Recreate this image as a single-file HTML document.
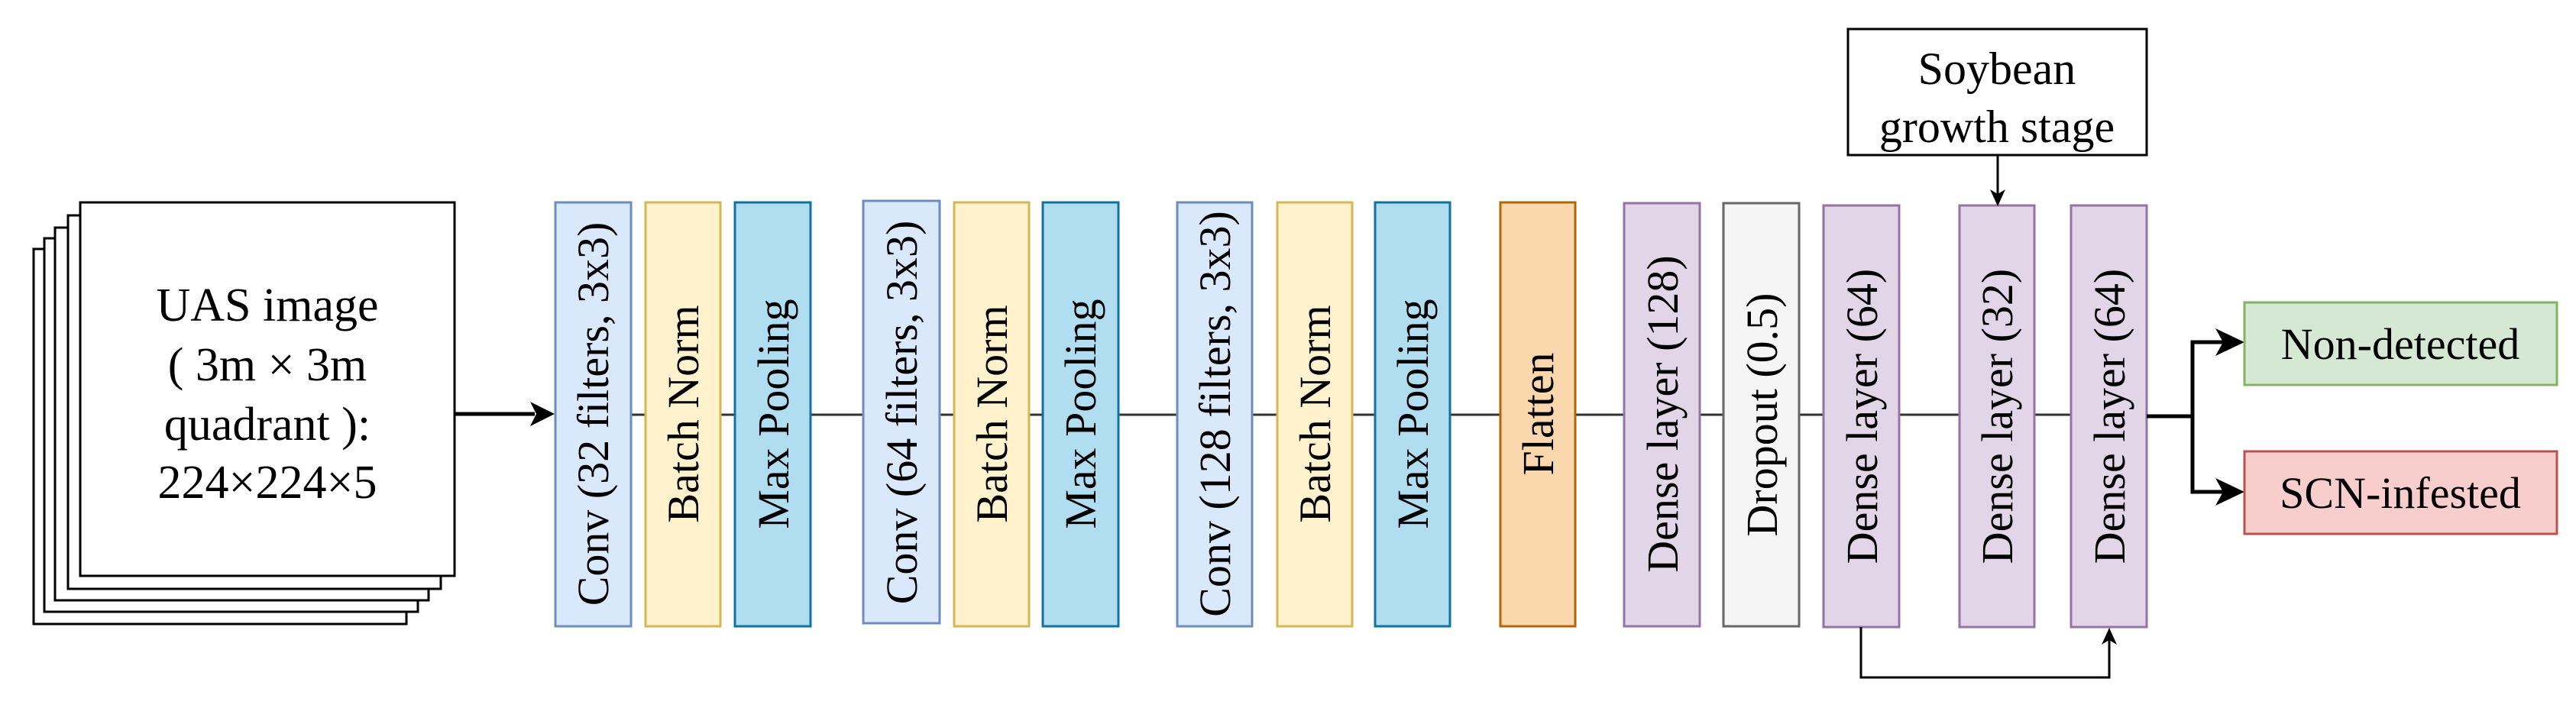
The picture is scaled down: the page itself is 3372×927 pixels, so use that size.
<!DOCTYPE html>
<html><head><meta charset="utf-8"><style>
html,body{margin:0;padding:0;background:#fff;}
svg{display:block;}
text{font-family:"Liberation Serif",serif;fill:#000;}
</style></head><body>
<svg width="3372" height="927" viewBox="0 0 3372 927" xmlns="http://www.w3.org/2000/svg">
<defs>
<marker id="ah" markerWidth="10" markerHeight="10" refX="9" refY="5" orient="auto" markerUnits="userSpaceOnUse"><path d="M0,0 L10,5 L0,10 L3,5 z" fill="#000"/></marker>
</defs>
<g fill="#fff" stroke="#000" stroke-width="3">
<rect x="44" y="326" width="488" height="491"/>
<rect x="58" y="312" width="489" height="489"/>
<rect x="72" y="298" width="489" height="488"/>
<rect x="89" y="282" width="488" height="489"/>
<rect x="105" y="265" width="490" height="489"/>
</g>
<g font-size="62" text-anchor="middle">
<text x="350" y="420">UAS image</text>
<text x="350" y="498">( 3m × 3m</text>
<text x="350" y="576">quadrant ):</text>
<text x="350" y="652">224×224×5</text>
</g>
<line x1="595" y1="542" x2="700" y2="542" stroke="#000" stroke-width="5"/>
<path d="M726,542 L694,526 L702,542 L694,558 z" fill="#000"/>
<line x1="826" y1="543" x2="2711" y2="543" stroke="#333" stroke-width="3"/>
<g stroke-width="3">
<rect x="727" y="265" width="99" height="555" fill="#dae8fc" stroke="#6c8ebf"/>
<rect x="845" y="265" width="98" height="555" fill="#fff2cc" stroke="#d6b656"/>
<rect x="962" y="265" width="99" height="555" fill="#b1ddf0" stroke="#10739e"/>
<rect x="1130" y="263" width="100" height="553" fill="#dae8fc" stroke="#6c8ebf"/>
<rect x="1249" y="265" width="98" height="555" fill="#fff2cc" stroke="#d6b656"/>
<rect x="1365" y="265" width="99" height="555" fill="#b1ddf0" stroke="#10739e"/>
<rect x="1541" y="265" width="98" height="555" fill="#dae8fc" stroke="#6c8ebf"/>
<rect x="1672" y="265" width="98" height="555" fill="#fff2cc" stroke="#d6b656"/>
<rect x="1800" y="265" width="98" height="555" fill="#b1ddf0" stroke="#10739e"/>
<rect x="1964" y="265" width="98" height="555" fill="#fad7ac" stroke="#b46504"/>
<rect x="2126" y="266" width="99" height="554" fill="#e1d5e7" stroke="#9673a6"/>
<rect x="2256" y="266" width="99" height="554" fill="#f5f5f5" stroke="#666666"/>
<rect x="2387" y="269" width="99" height="552" fill="#e1d5e7" stroke="#9673a6"/>
<rect x="2565" y="269" width="98" height="552" fill="#e1d5e7" stroke="#9673a6"/>
<rect x="2711" y="269" width="99" height="552" fill="#e1d5e7" stroke="#9673a6"/>
</g>
<g font-size="58" text-anchor="middle">
<text transform="translate(796,542) rotate(-90)">Conv (32 filters, 3x3)</text>
<text transform="translate(914,542) rotate(-90)">Batch Norm</text>
<text transform="translate(1032,542) rotate(-90)">Max Pooling</text>
<text transform="translate(1200,540) rotate(-90)">Conv (64 filters, 3x3)</text>
<text transform="translate(1318,542) rotate(-90)">Batch Norm</text>
<text transform="translate(1434,542) rotate(-90)">Max Pooling</text>
<text transform="translate(1610,542) rotate(-90)">Conv (128 filters, 3x3)</text>
<text transform="translate(1741,542) rotate(-90)">Batch Norm</text>
<text transform="translate(1869,542) rotate(-90)">Max Pooling</text>
<text transform="translate(2033,542) rotate(-90)">Flatten</text>
<text transform="translate(2196,542) rotate(-90)">Dense layer (128)</text>
<text transform="translate(2326,543) rotate(-90)">Dropout (0.5)</text>
<text transform="translate(2457,545) rotate(-90)">Dense layer (64)</text>
<text transform="translate(2634,545) rotate(-90)">Dense layer (32)</text>
<text transform="translate(2781,545) rotate(-90)">Dense layer (64)</text>
</g>
<rect x="2419" y="38" width="391" height="165" fill="#fff" stroke="#000" stroke-width="3"/>
<g font-size="60" text-anchor="middle">
<text x="2614" y="110">Soybean</text>
<text x="2614" y="186">growth stage</text>
</g>
<line x1="2615" y1="203" x2="2615" y2="262" stroke="#000" stroke-width="3"/>
<path d="M2615,270 L2605,248 L2615,254 L2625,248 z" fill="#000"/>
<polyline points="2436,821 2436,887 2761,887 2761,830" fill="none" stroke="#000" stroke-width="3"/>
<path d="M2761,822 L2751,844 L2761,838 L2771,844 z" fill="#000"/>
<polyline points="2810,545 2870,545" fill="none" stroke="#000" stroke-width="5"/>
<polyline points="2918,448 2870,448 2870,644 2918,644" fill="none" stroke="#000" stroke-width="5"/>
<path d="M2938,448 L2900,430 L2910,448 L2900,466 z" fill="#000"/>
<path d="M2938,644 L2900,626 L2910,644 L2900,662 z" fill="#000"/>
<rect x="2938" y="396" width="409" height="108" fill="#d5e8d4" stroke="#82b366" stroke-width="3"/>
<rect x="2938" y="591" width="409" height="108" fill="#f8cecc" stroke="#b85450" stroke-width="3"/>
<g font-size="58" text-anchor="middle">
<text x="3142" y="470">Non-detected</text>
<text x="3142" y="665">SCN-infested</text>
</g>
</svg>
</body></html>
